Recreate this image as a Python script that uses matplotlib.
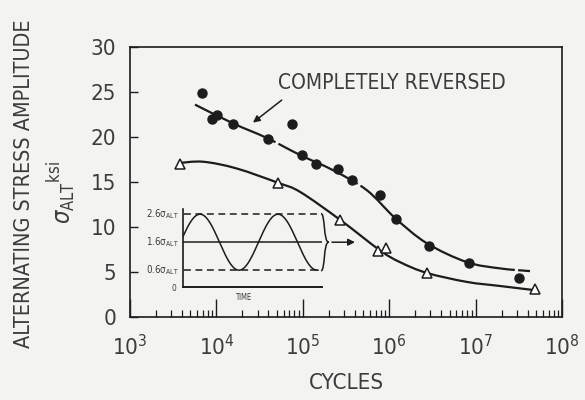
import numpy as np
import matplotlib
matplotlib.use("Agg")
import matplotlib.pyplot as plt
from matplotlib import font_manager
from matplotlib.ticker import LogLocator, FixedLocator, NullFormatter
from matplotlib.path import Path
from matplotlib.patches import PathPatch
from matplotlib.transforms import IdentityTransform

# narrow lettering if available
_fonts = {(f.name, f.stretch) for f in font_manager.fontManager.ttflist}
_names = {n for n, _ in _fonts}
STRETCH = 'normal'
if 'Liberation Sans Narrow' in _names:
    FAMILY = 'Liberation Sans Narrow'
elif ('DejaVu Sans', 'condensed') in _fonts:
    FAMILY, STRETCH = 'DejaVu Sans', 'condensed'
else:
    FAMILY = 'Liberation Sans'
plt.rcParams['font.family'] = [FAMILY, 'DejaVu Sans']
plt.rcParams['font.stretch'] = STRETCH

# Completely reversed tests (filled circles)
rev_cycles = [6870, 10070, 8800, 15700, 74300, 39200, 97000, 141000, 253000,
              368000, 783000, 1.2e6, 2.92e6, 8.45e6, 3.2e7]
rev_stress = [24.9, 22.4, 22.0, 21.5, 21.5, 19.8, 18.0, 17.0, 16.5,
              15.2, 13.6, 10.9, 7.9, 6.0, 4.3]

# Tests with mean stress (open triangles)
mean_cycles = [3800, 52000, 270000, 748000, 918000, 2.72e6, 4.86e7]
mean_stress = [17.0, 14.9, 10.8, 7.3, 7.7, 4.9, 3.1]

# Fitted curves
rev_fit_cycles = [5650, 15700, 38200, 93000, 225000, 549000, 1.17e6, 2.72e6,
                  7.9e6, 1.92e7, 4.26e7]
rev_fit_stress = [23.6, 21.5, 19.9, 18.0, 16.3, 14.1, 11.0, 8.2, 6.1, 5.4, 5.1]

mean_fit_cycles = [3620, 7050, 17200, 52000, 93000, 270000, 783000, 1.33e6,
                   2.72e6, 7.9e6, 1.9e7, 4.66e7]
mean_fit_stress = [17.1, 17.25, 16.5, 14.9, 13.9, 10.8, 7.4, 6.1, 4.9, 3.9,
                   3.45, 3.0]

y_ticks = [0, 5, 10, 15, 20, 25, 30]
x_decades = [3, 4, 5, 6, 7, 8]

# Inset waveform levels (multiples of the alternating stress)
wave_levels = [0.6, 1.6, 2.6]
wave_labels = ['0.6σ', '1.6σ', '2.6σ']

BG = '#f3f3f1'
INK = '#1c1c1c'
TXT = '#3c3c3c'

W, H = 585, 400
fig = plt.figure(figsize=(W / 100, H / 100), dpi=100, facecolor=BG)


def fx(px):
    return px / W


def fy(py):
    return 1 - py / H


ax = fig.add_axes([fx(130), fy(317), (562 - 130) / W, (317 - 47) / H])
ax.set_facecolor(BG)
ax.set_xscale('log')
ax.set_xlim(1e3, 1e8)
ax.set_ylim(0, 30)
for s in ax.spines.values():
    s.set_color(INK)
    s.set_linewidth(1.2)

ax.xaxis.set_major_locator(FixedLocator([10.0 ** d for d in x_decades]))
ax.xaxis.set_minor_locator(LogLocator(base=10, subs=np.arange(2, 10)))
ax.xaxis.set_minor_formatter(NullFormatter())
ax.set_xticklabels([r'$\mathregular{10^{%d}}$' % d for d in x_decades])
ax.set_yticks(y_ticks)
ax.set_yticklabels([str(v) for v in y_ticks])
ax.tick_params(axis='x', which='major', direction='in', length=13, width=1.0,
               color=INK, pad=12, labelsize=16, labelcolor=TXT)
ax.tick_params(axis='x', which='minor', direction='in', length=5, width=0.9,
               color=INK)
ax.tick_params(axis='y', which='major', direction='in', length=6, width=1.0,
               color=INK, pad=10, labelsize=16, labelcolor=TXT)


def smooth_curve(axis, xs, ys, **kw):
    """Draw a smooth curve through the given points (Catmull-Rom in screen space)."""
    P = axis.transData.transform(np.column_stack([xs, ys]))
    Q = np.vstack([P[0], P, P[-1]])
    verts, codes = [P[0]], [Path.MOVETO]
    for i in range(1, len(Q) - 2):
        c1 = Q[i] + (Q[i + 1] - Q[i - 1]) / 6.0
        c2 = Q[i + 1] - (Q[i + 2] - Q[i]) / 6.0
        verts += [c1, c2, Q[i + 1]]
        codes += [Path.CURVE4] * 3
    patch = PathPatch(Path(verts, codes), fill=False, transform=IdentityTransform(), **kw)
    axis.add_patch(patch)
    return patch


# fitted curves
smooth_curve(ax, rev_fit_cycles, rev_fit_stress, ec=INK, lw=1.6,
             linestyle=(0, (40, 1.5)), zorder=2)
smooth_curve(ax, mean_fit_cycles, mean_fit_stress, ec=INK, lw=1.6, zorder=2)

# test points
ax.plot(rev_cycles, rev_stress, 'o', color=INK, ms=6.5, zorder=3)
ax.plot(mean_cycles, mean_stress, '^', mfc='white', mec=INK, mew=1.1,
        ms=7, zorder=3)

# curve label with arrow
ax.text(51600, 26.0, 'COMPLETELY REVERSED', ha='left', va='center',
        fontsize=15, color=TXT)
ax.annotate('', xy=(26500, 21.6), xytext=(57000, 24.1),
            arrowprops=dict(arrowstyle='-|>', color=INK, lw=1.1,
                            mutation_scale=10, shrinkA=0, shrinkB=0))

# axis titles
fig.text(fx(24), fy(184), 'ALTERNATING STRESS AMPLITUDE', rotation=90,
         ha='center', va='center', fontsize=15.5, color=TXT)
fig.text(fx(62), fy(192),
         r'$\sigma_{\mathregular{ALT}}{}^{\mathregular{ksi}}$', rotation=90,
         ha='center', va='center', fontsize=17, color=TXT)
fig.text(fx(346), fy(383), 'CYCLES', ha='center', va='center',
         fontsize=16, color=TXT)

# inset: stress-time schematic
scale = 28.0  # pixels per unit of alternating stress
ix0, ix1, iy0, iytop = 183, 322, 287, 205
iax = fig.add_axes([fx(ix0), fy(iy0), (ix1 - ix0) / W, (iy0 - iytop) / H])
iax.set_xlim(0, ix1 - ix0)
iax.set_ylim(0, (iy0 - iytop) / scale)
iax.axis('off')
iax.patch.set_alpha(0)

iax.plot([0, 0], [0, 2.78], color=INK, lw=1.2, clip_on=False)
iax.plot([0, ix1 - ix0], [0, 0], color=INK, lw=1.4, clip_on=False)
iax.plot([0, ix1 - ix0], [wave_levels[1]] * 2, color=INK, lw=1.1)
for lv in (wave_levels[0], wave_levels[2]):
    iax.plot([1, ix1 - ix0 - 2], [lv, lv], color=INK, lw=1.1,
             dashes=(4.5, 3))

period, peak_at = 78.0, 17.0
t = np.linspace(0, 135, 300)
wave = wave_levels[1] + np.cos(2 * np.pi * (t - peak_at) / period)
iax.plot(t, wave, color=INK, lw=1.1)

for lv, lab in zip(wave_levels, wave_labels):
    iax.text(-4, lv, lab + r'$_{\mathregular{ALT}}$', ha='right', va='center',
             fontsize=7, color=TXT, clip_on=False)
iax.text(-9, -0.05, '0', ha='center', va='center', fontsize=6, color=TXT)
iax.text(60, -0.38, 'TIME', ha='center', va='center', fontsize=5.5,
         color=TXT, clip_on=False)

# brace joining the three levels, then arrow to the curve
bx = ix1 - ix0 - 1
y_lo, y_hi = wave_levels[0] - 0.02, wave_levels[2] + 0.02
ym = wave_levels[1]
w = 5.5
verts = [(bx, y_hi),
         (bx + w * 0.8, y_hi), (bx + w * 0.4, ym), (bx + w * 1.4, ym),
         (bx + w * 0.4, ym), (bx + w * 0.8, y_lo), (bx, y_lo)]
codes = [Path.MOVETO] + [Path.CURVE4] * 6
iax.add_patch(PathPatch(Path(verts, codes), fill=False, ec=INK, lw=1.1,
                        clip_on=False))
iax.annotate('', xy=(ix1 - ix0 + 33, ym), xytext=(ix1 - ix0 + 10, ym),
             arrowprops=dict(arrowstyle='-|>', color=INK, lw=1.1,
                             mutation_scale=10, shrinkA=0, shrinkB=0),
             annotation_clip=False)

fig.savefig('out.png', dpi=100, facecolor=BG)
